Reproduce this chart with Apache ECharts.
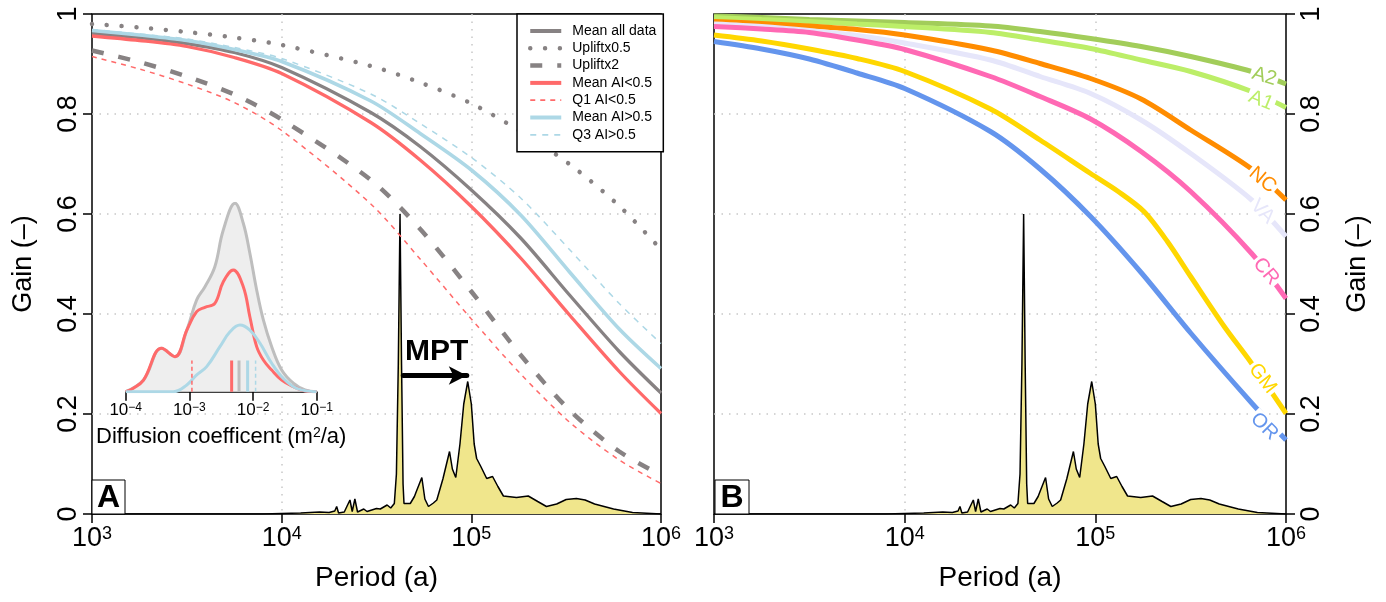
<!DOCTYPE html>
<html><head><meta charset="utf-8">
<script src="https://cdn.jsdelivr.net/npm/echarts@6/dist/echarts.min.js"></script>
<style>html,body{margin:0;padding:0;background:#fff}#c{width:1386px;height:602px}</style>
</head><body><div id="c"></div>
<script>
// ---------- DATA ----------
// Panel A: log10(period) grid and gain curves
const logPA = [3.0, 3.25, 3.5, 3.75, 4.0, 4.47, 4.73, 5.0, 5.26, 5.52, 5.78, 6.0];
const meanAll   = [0.961, 0.953, 0.941, 0.923, 0.893, 0.803, 0.735, 0.648, 0.552, 0.437, 0.325, 0.242];
const uplift05  = [0.980, 0.973, 0.964, 0.953, 0.938, 0.896, 0.863, 0.821, 0.765, 0.699, 0.616, 0.529];
const uplift2   = [0.927, 0.904, 0.875, 0.839, 0.789, 0.668, 0.570, 0.445, 0.318, 0.207, 0.125, 0.078];
const meanAIlo  = [0.956, 0.947, 0.935, 0.913, 0.881, 0.783, 0.708, 0.615, 0.512, 0.397, 0.285, 0.201];
const q1AIlo    = [0.915, 0.890, 0.860, 0.823, 0.767, 0.620, 0.510, 0.390, 0.280, 0.183, 0.108, 0.061];
const meanAIhi  = [0.967, 0.958, 0.947, 0.929, 0.905, 0.826, 0.761, 0.688, 0.598, 0.483, 0.370, 0.291];
const q3AIhi    = [0.969, 0.960, 0.950, 0.933, 0.911, 0.840, 0.781, 0.713, 0.632, 0.528, 0.421, 0.341];
const seriesNamesA = ['Mean all data', 'Upliftx0.5', 'Upliftx2', 'Mean AI<0.5', 'Q1 AI<0.5', 'Mean AI>0.5', 'Q3 AI>0.5'];

// Panel B: log10(period) grid and gain curves per site
const logPB = [3.0, 3.25, 3.5, 3.75, 4.0, 4.45, 4.71, 4.975, 5.24, 5.5, 5.82, 6.0];
const siteA2 = [0.996, 0.993, 0.989, 0.986, 0.983, 0.976, 0.965, 0.951, 0.935, 0.915, 0.885, 0.860];
const siteA1 = [0.993, 0.989, 0.985, 0.980, 0.975, 0.963, 0.948, 0.931, 0.908, 0.885, 0.845, 0.813];
const siteNC = [0.985, 0.981, 0.976, 0.969, 0.958, 0.928, 0.901, 0.871, 0.830, 0.768, 0.690, 0.628];
const siteVA = [0.980, 0.975, 0.967, 0.957, 0.942, 0.908, 0.875, 0.841, 0.788, 0.721, 0.628, 0.555];
const siteCR = [0.975, 0.970, 0.963, 0.948, 0.929, 0.875, 0.835, 0.790, 0.725, 0.645, 0.521, 0.431];
const siteOR = [0.945, 0.930, 0.910, 0.882, 0.851, 0.765, 0.690, 0.595, 0.483, 0.362, 0.222, 0.148];
const logPGM = [3.0, 3.25, 3.5, 3.75, 4.0, 4.45, 4.71, 4.975, 5.12, 5.255, 5.378, 5.5, 5.676, 5.82, 6.0];
const siteGM = [0.958, 0.946, 0.930, 0.911, 0.885, 0.810, 0.748, 0.681, 0.645, 0.605, 0.545, 0.475, 0.375, 0.301, 0.201];
const siteNames = ['A2', 'A1', 'NC', 'VA', 'CR', 'GM', 'OR'];
const siteLabelLogP = [5.886, 5.869, 5.877, 5.877, 5.895, 5.877, 5.886];
const siteLabelGain = [0.875, 0.827, 0.668, 0.605, 0.485, 0.271, 0.175];

// Climate spectrum (log10 period, power scaled to gain axis)
const specLogP = [3.0, 3.9, 4.1, 4.2, 4.25, 4.28, 4.29, 4.30, 4.33, 4.36, 4.372, 4.386, 4.40, 4.433, 4.45, 4.50, 4.52, 4.556, 4.575, 4.594, 4.605, 4.615, 4.624, 4.632, 4.64, 4.645, 4.678, 4.70, 4.71, 4.72, 4.739, 4.755, 4.774, 4.80, 4.818, 4.85, 4.885, 4.90, 4.918, 4.94, 4.96, 4.981, 5.0, 5.015, 5.028, 5.05, 5.081, 5.112, 5.14, 5.169, 5.238, 5.30, 5.35, 5.396, 5.45, 5.50, 5.554, 5.60, 5.65, 5.75, 5.85, 5.95, 6.0];
const specVal  = [0.0, 0.0, 0.002, 0.004, 0.003, 0.006, 0.015, 0.002, 0.004, 0.028, 0.005, 0.030, 0.004, 0.010, 0.005, 0.011, 0.010, 0.018, 0.012, 0.021, 0.08, 0.30, 0.600, 0.30, 0.06, 0.021, 0.021, 0.035, 0.045, 0.042, 0.073, 0.030, 0.015, 0.022, 0.028, 0.070, 0.125, 0.090, 0.073, 0.140, 0.220, 0.265, 0.220, 0.140, 0.111, 0.095, 0.071, 0.075, 0.055, 0.036, 0.033, 0.036, 0.025, 0.015, 0.020, 0.029, 0.031, 0.028, 0.020, 0.010, 0.003, 0.001, 0.0];

// MPT arrow (log10 period, gain)
const mptFrom = 4.641, mptTo = 4.976, mptGain = 0.277;
const mptText = [4.817, 0.324];

// Inset: diffusion coefficient densities (log10 D, relative density)
const densGrayLogD = [-4.0, -3.72, -3.435, -3.226, -3.04, -2.885, -2.755, -2.6, -2.467, -2.283, -2.153, -2.05, -1.943, -1.838, -1.707, -1.55, -1.367, -1.184, -1.0];
const densGray     = [0.0, 0.062, 0.230, 0.186, 0.327, 0.487, 0.557, 0.663, 0.858, 1.000, 0.894, 0.735, 0.540, 0.381, 0.239, 0.115, 0.045, 0.009, 0.0];
const densRedLogD  = [-4.0, -3.88, -3.72, -3.435, -3.226, -3.04, -2.885, -2.755, -2.6, -2.467, -2.31, -2.153, -2.05, -1.943, -1.838, -1.707, -1.55, -1.367, -1.184, -1.0];
const densRed      = [0.0, 0.018, 0.062, 0.230, 0.186, 0.327, 0.425, 0.448, 0.469, 0.584, 0.646, 0.557, 0.398, 0.239, 0.168, 0.115, 0.062, 0.027, 0.004, 0.0];
const densBlueLogD = [-4.0, -3.25, -3.04, -2.885, -2.728, -2.52, -2.362, -2.205, -2.05, -1.89, -1.707, -1.525, -1.315, -1.0];
const densBlue     = [0.0, 0.0, 0.036, 0.089, 0.133, 0.239, 0.318, 0.354, 0.327, 0.257, 0.151, 0.071, 0.018, 0.0];
// summary markers (log10 D): Q1 AI<0.5, mean AI<0.5, mean all, mean AI>0.5, Q3 AI>0.5
const markerLogD = [-2.96, -2.336, -2.22, -2.085, -1.96];
const markerHeight = 0.165;

// tick values
const periodTicks = [3, 4, 5, 6];
const diffTicks = [-4, -3, -2, -1];

// ---------- STYLE ----------
const F = "'Liberation Sans',Arial,sans-serif";
const GRAY = '#878283', RED = '#FF6A6A', BLUE = '#ADD8E6';
const siteColors = ['#A2CD5A', '#BCEE68', '#FF8C00', '#E6E6FA', '#FF69B4', '#FFD700', '#6495ED'];
const siteRot = [-17, -22, -40, -45, -50, -52, -45];

const zip = (xs, ys) => xs.map((x, i) => [x, ys[i]]);
const dotted = { type: [1.5, 6], color: '#C8C8C8', width: 1.5 };

function xAxisMain(gi) {
  return {
    gridIndex: gi, type: 'value', min: 3, max: 6, interval: 1,
    axisLine: { show: false },
    axisTick: { show: true, length: 9, lineStyle: { color: '#000', width: 1.5 } },
    axisLabel: {
      margin: 11, color: '#000',
      formatter: v => periodTicks.indexOf(v) >= 0 ? '{b|10}{s|' + v + '}' : '',
      rich: { b: { fontSize: 27, fontFamily: F, color: '#000' }, s: { fontSize: 18, fontFamily: F, color: '#000', verticalAlign: 'top' } }
    },
    splitLine: { show: true, showMinLine: false, showMaxLine: false, lineStyle: dotted },
    name: 'Period (a)', nameLocation: 'middle', nameGap: 50,
    nameTextStyle: { fontSize: 28, fontFamily: F, color: '#000' }
  };
}
function yAxisMain(gi, pos) {
  return {
    gridIndex: gi, type: 'value', min: 0, max: 1, interval: 0.2, position: pos,
    axisLine: { show: false },
    axisTick: { show: true, length: 9, lineStyle: { color: '#000', width: 1.5 } },
    axisLabel: { show: true, rotate: 90, margin: pos === 'left' ? 10 : 12, fontSize: 27, fontFamily: F, color: '#000' },
    splitLine: { show: true, showMinLine: false, showMaxLine: false, lineStyle: dotted },
    name: 'Gain (–)', nameLocation: 'middle', nameGap: 55, nameRotate: 90,
    nameTextStyle: { fontSize: 27, fontFamily: F, color: '#000' }
  };
}

const series = [];
// spectrum, both panels
[0, 1].forEach(gi => {
  series.push({
    type: 'line', xAxisIndex: gi, yAxisIndex: gi, data: zip(specLogP, specVal),
    symbol: 'none', z: 1, silent: true,
    lineStyle: { color: '#000', width: 1.5 },
    areaStyle: { color: '#F0E68C', opacity: 1 },
    markLine: gi === 0 ? {
      silent: true, symbol: ['none', 'arrow'], symbolSize: [14, 18],
      lineStyle: { color: '#000', width: 5, type: 'solid', cap: 'round' },
      label: { show: false },
      data: [[{ coord: [mptFrom, mptGain] }, { coord: [mptTo, mptGain] }]]
    } : undefined
  });
});
// Panel A curves
const aData = [meanAll, uplift05, uplift2, meanAIlo, q1AIlo, meanAIhi, q3AIhi];
const aStyle = [
  { color: GRAY, width: 3.3, type: 'solid' },
  { color: GRAY, width: 4.5, type: [0.01, 14.8], cap: 'round' },
  { color: GRAY, width: 4.5, type: [12, 15] },
  { color: RED, width: 3.3, type: 'solid' },
  { color: RED, width: 1.5, type: [5, 5] },
  { color: BLUE, width: 3.6, type: 'solid' },
  { color: BLUE, width: 1.5, type: [6, 6] }
];
const aOrder = [1, 2, 4, 6, 0, 3, 5];
aOrder.forEach(i => {
  series.push({
    name: seriesNamesA[i], type: 'line', xAxisIndex: 0, yAxisIndex: 0,
    data: zip(logPA, aData[i]), symbol: 'none', smooth: 0.3, z: 3,
    color: aStyle[i].color, lineStyle: aStyle[i]
  });
});
// MPT text
series.push({
  type: 'scatter', xAxisIndex: 0, yAxisIndex: 0, data: [mptText], symbolSize: 0, silent: true, z: 5,
  itemStyle: { opacity: 1 },
  label: { show: true, position: 'inside', formatter: 'MPT', fontSize: 30, fontWeight: 900, fontFamily: F, color: '#000' }
});
// Panel B curves
const bData = [siteA2, siteA1, siteNC, siteVA, siteCR, siteGM, siteOR];
bData.forEach((d, i) => {
  series.push({
    type: 'line', xAxisIndex: 1, yAxisIndex: 1,
    data: zip(siteNames[i] === 'GM' ? logPGM : logPB, d), symbol: 'none', smooth: 0.3, z: 3,
    lineStyle: { color: siteColors[i], width: 5 }
  });
});
series.push({
  type: 'scatter', xAxisIndex: 1, yAxisIndex: 1, symbolSize: 0, silent: true, z: 6,
  itemStyle: { opacity: 1 },
  data: siteNames.map((n, i) => ({
    value: [siteLabelLogP[i], siteLabelGain[i]],
    label: { show: true, position: 'inside', formatter: n, rotate: siteRot[i], color: siteColors[i],
      fontSize: 20, fontFamily: F, backgroundColor: '#fff', padding: [0, 2] }
  }))
});
// Inset
series.push({
  type: 'line', xAxisIndex: 2, yAxisIndex: 2, data: zip(densGrayLogD, densGray), symbol: 'none', smooth: 0.4, z: 3, silent: true,
  lineStyle: { color: '#BEBEBE', width: 3 }, areaStyle: { color: '#EEEEEE', opacity: 1 }
});
series.push({
  type: 'line', xAxisIndex: 2, yAxisIndex: 2, data: zip(densRedLogD, densRed), symbol: 'none', smooth: 0.4, z: 4, silent: true,
  lineStyle: { color: RED, width: 3 }
});
series.push({
  type: 'line', xAxisIndex: 2, yAxisIndex: 2, data: zip(densBlueLogD, densBlue), symbol: 'none', smooth: 0.4, z: 4, silent: true,
  lineStyle: { color: BLUE, width: 3 }
});
const markerStyle = [
  { color: RED, width: 1.5, type: [4, 3] },
  { color: RED, width: 3, type: 'solid' },
  { color: '#BEBEBE', width: 3, type: 'solid' },
  { color: BLUE, width: 3, type: 'solid' },
  { color: BLUE, width: 1.5, type: [4, 3] }
];
markerLogD.forEach((x, i) => {
  series.push({
    type: 'line', xAxisIndex: 2, yAxisIndex: 2, data: [[x, 0], [x, markerHeight]], symbol: 'none', z: 5, silent: true,
    lineStyle: markerStyle[i]
  });
});

const option = {
  animation: false,
  backgroundColor: '#fff',
  grid: [
    { left: 92, top: 14, width: 569, height: 500, show: true, borderColor: '#000', borderWidth: 1.5 },
    { left: 714, top: 14, width: 572, height: 500, show: true, borderColor: '#000', borderWidth: 1.5 },
    { left: 125.7, top: 203.3, width: 191, height: 188.4, show: false }
  ],
  xAxis: [
    xAxisMain(0), xAxisMain(1),
    {
      gridIndex: 2, type: 'value', min: -4, max: -1, interval: 1,
      axisLine: { show: true, onZero: false, lineStyle: { color: '#000', width: 1.5 } },
      axisTick: { show: true, length: 9, lineStyle: { color: '#000', width: 1.5 } },
      axisLabel: {
        margin: 10,
        formatter: v => diffTicks.indexOf(v) >= 0 ? '{b|10}{s|−' + Math.abs(v) + '}' : '',
        rich: { b: { fontSize: 17, fontFamily: F, color: '#000' }, s: { fontSize: 12, fontFamily: F, color: '#000', verticalAlign: 'top' } }
      },
      splitLine: { show: false },
      name: 'Diffusion coefficent (m{s|2}/a)', nameLocation: 'middle', nameGap: 34,
      nameTextStyle: { fontSize: 22, fontFamily: F, color: '#000',
        rich: { s: { fontSize: 14, fontFamily: F, color: '#000', verticalAlign: 'top' } } }
    }
  ],
  yAxis: [
    yAxisMain(0, 'left'),
    Object.assign(yAxisMain(1, 'right'), { nameGap: 58 }),
    { gridIndex: 2, type: 'value', min: 0, max: 1, show: false }
  ],
  legend: {
    data: seriesNamesA.map((n, i) => ({ name: n, lineStyle: { width: [4, 4.5, 4.5, 4, 1.8, 4, 1.8][i] } })),
    orient: 'vertical', left: 517, top: 14,
    backgroundColor: '#fff', borderColor: '#000', borderWidth: 1.5, borderRadius: 0,
    padding: [10, 7, 10, 11], itemGap: 3.3, itemWidth: 31, itemHeight: 14,
    itemStyle: { opacity: 0 },
    textStyle: { fontSize: 14, fontFamily: F, color: '#000', padding: [0, 0, 0, 6] },
    selectedMode: false, z: 10
  },
  graphic: [
    { type: 'rect', z: 100, shape: { x: 92, y: 480, width: 33, height: 34 }, style: { fill: '#fff', stroke: '#000', lineWidth: 1 } },
    { type: 'text', z: 101, x: 108.5, y: 498, style: { text: 'A', font: 'bold 32px ' + F, fill: '#000', align: 'center', verticalAlign: 'middle' } },
    { type: 'rect', z: 100, shape: { x: 715, y: 480, width: 34, height: 34 }, style: { fill: '#fff', stroke: '#000', lineWidth: 1 } },
    { type: 'text', z: 101, x: 732, y: 498, style: { text: 'B', font: 'bold 32px ' + F, fill: '#000', align: 'center', verticalAlign: 'middle' } }
  ],
  series: series
};
const chart = echarts.init(document.getElementById('c'));
chart.setOption(option);
</script>
</body></html>
